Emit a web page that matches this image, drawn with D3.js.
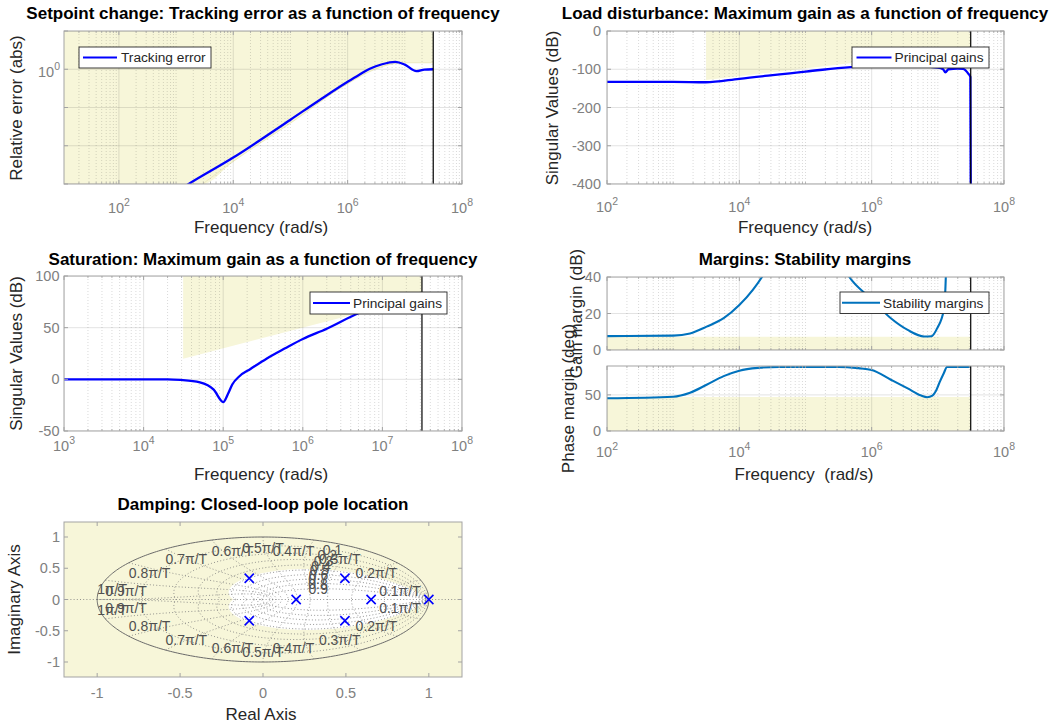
<!DOCTYPE html>
<html><head><meta charset="utf-8">
<script src="https://cdn.jsdelivr.net/npm/d3@7"></script>
<style>
html,body{margin:0;padding:0;background:#fff;}
svg{display:block;}
text{font-family:"Liberation Sans", Arial, Helvetica, sans-serif;}
</style></head><body>
<svg id="fig" width="1058" height="727"></svg>
<script>
// ================= DATA =================
const nyquistFreq = 3.14e7;

// Panel 1: Setpoint change – tracking error
const trackFreq = [1e3, 1.66e3, 1e4, 1e5, 3.3e5, 1e6, 1.6e6, 2.5e6, 4e6, 6.8e6, 1e7, 1.6e7, 2.2e7, 3.14e7];
const trackErr  = [6.2e-4, 1e-3, 4.9e-3, 0.048, 0.16, 0.47, 0.72, 1.05, 1.35, 1.56, 1.32, 0.89, 0.98, 1.0];
const trackBoundFreq = [2.9e3, 1e4, 1e5, 1e6, 3e6, 6e6, 1e7, 3.14e7];
const trackBoundVal  = [1e-3, 3.9e-3, 0.039, 0.42, 1.0, 1.38, 1.48, 1.48];

// Panel 2: Load disturbance – principal gains (dB)
const loadFreq = [1e2, 1e3, 3.1e3, 1e4, 1e5, 1e6, 3e6, 1e7, 1.2e7, 1.3e7, 1.45e7, 2e7, 2.4e7, 2.9e7, 3.1e7, 3.14e7];
const loadGain = [-133, -133, -134, -125, -106, -91, -90, -96, -100, -108, -100, -98, -99, -112, -120, -400];
const loadBoundFreq = [3.14e3, 3.14e7];
const loadBoundGain = [-128, -48];

// Panel 3: Saturation – principal gains (dB)
const satFreq = [1e3, 2e4, 2.9e4, 5.1e4, 7.6e4, 1e5, 1.15e5, 1.3e5, 1.6e5, 2.2e5, 3.5e5, 6e5, 1e6, 2e6, 5e6, 1e7, 3.14e7];
const satGain = [0, 0, -0.6, -3, -10, -22, -14, -5, 3, 10, 20, 30, 39, 49, 64, 72, 76];
const satBoundFreq = [3.14e4, 3.14e7];
const satBoundGain = [20, 80];

// Panel 4: Stability margins
const gmFreq = [1e2, 1e3, 1.8e3, 3.2e3, 5.8e3, 1e4, 1.6e4, 2.2e4, 3.2e4, 1e5, 3.2e5, 4.6e5, 9.5e5, 1.95e6, 3.5e6, 6.2e6, 8e6, 9.8e6, 1.23e7, 1.32e7, 1.38e7];
const gmVal  = [7.6, 7.9, 9.1, 12.8, 17.4, 24.6, 32.9, 40, 50, 70, 50, 40, 28.5, 17.4, 11, 7.4, 7.5, 12, 22, 40, 80];
const pmFreq = [1e2, 1e3, 1.8e3, 3.2e3, 5.8e3, 1e4, 2e4, 4e4, 3.2e5, 6.3e5, 1e6, 1.95e6, 3.5e6, 5.6e6, 6.9e6, 8.3e6, 9.3e6, 1.07e7, 1.23e7, 1.38e7, 3.14e7];
const pmVal  = [45.3, 47.5, 53, 64, 76, 83.5, 87.5, 88.8, 88.8, 87, 84.5, 71, 59, 49, 46.8, 49, 55, 68, 80, 88.8, 88.8];
const gmBound = 7.2;
const pmBound = 47;

// Panel 5: Damping – closed-loop poles
const poleRe = [-0.083, -0.083, 0.2, 0.494, 0.494, 0.652, 1.0];
const poleIm = [0.34, -0.34, 0, 0.34, -0.34, 0, 0];
const minDamping = 0.48;
const zetaGrid = [0.1, 0.2, 0.3, 0.4, 0.5, 0.6, 0.7, 0.8, 0.9];
const wnGrid = [0.1, 0.2, 0.3, 0.4, 0.5, 0.6, 0.7, 0.8, 0.9, 1.0];
const wnLabels = ["0.1π/T","0.2π/T","0.3π/T","0.4π/T","0.5π/T","0.6π/T","0.7π/T","0.8π/T","0.9π/T","1π/T"];
const zetaLabelWn = 1.09;

// tick labels
const p1XTickExp = [2, 4, 6, 8];
const p1YTickExp = [0];
const p2XTickExp = [2, 4, 6, 8];
const p2YTicks = [0, -100, -200, -300, -400];
const p3XTickExp = [3, 4, 5, 6, 7, 8];
const p3YTicks = [100, 50, 0, -50];
const p4XTickExp = [2, 4, 6, 8];
const p4UTicks = [0, 20, 40];
const p4LTicks = [0, 50];
const p5XTicks = [-1, -0.5, 0, 0.5, 1];
const p5YTicks = [1, 0.5, 0, -0.5, -1];

// ================= DRAWING =================
const svg = d3.select("#fig");
const defs = svg.append("defs");
const C = {fill:"#f7f6d9", tick:"#808080", box:"#a3a3a3", major:"rgba(38,38,38,0.13)",
  minor:"rgba(38,38,38,0.22)", label:"#262626", blue:"#0000ff", steel:"#0072bd"};
const FONT = {tick:14.5, label:17, title:17, legend:13.7};
let clipN = 0;
function clipFor(xs, ys) {
  const [x0,x1] = xs.range(), [y1,y0] = ys.range();
  const id = "clip" + (clipN++);
  defs.append("clipPath").attr("id", id).append("rect")
    .attr("x", x0).attr("y", y0).attr("width", x1-x0).attr("height", y1-y0);
  return `url(#${id})`;
}
function logAll(scale) {
  const [d0,d1] = scale.domain(); const out = [];
  for (let e = Math.floor(Math.log10(d0)); e <= Math.ceil(Math.log10(d1)); e++)
    for (let m = 1; m < 10; m++) { const v = m*Math.pow(10,e); if (v >= d0*0.9999 && v <= d1*1.0001) out.push({v, m, e}); }
  return out;
}
function logMajorMinor(scale, majorExps) {
  const all = logAll(scale);
  return {
    major: all.filter(t => t.m===1 && majorExps.includes(t.e)).map(t=>t.v),
    minor: all.filter(t => !(t.m===1 && majorExps.includes(t.e))).map(t=>t.v)
  };
}
function vline(g, x, y0, y1, stroke, w, dash) {
  const l = g.append("line").attr("x1",x).attr("x2",x).attr("y1",y0).attr("y2",y1)
    .attr("stroke",stroke).attr("stroke-width",w);
  if (dash) l.attr("stroke-dasharray",dash);
}
function hline(g, y, x0, x1, stroke, w, dash) {
  const l = g.append("line").attr("x1",x0).attr("x2",x1).attr("y1",y).attr("y2",y)
    .attr("stroke",stroke).attr("stroke-width",w);
  if (dash) l.attr("stroke-dasharray",dash);
}
function grid(g, xs, ys, o) {
  const [x0,x1] = xs.range(), [y1,y0] = ys.range();
  (o.xMinor||[]).forEach(v => vline(g, xs(v), y0, y1, C.minor, 0.8, "1,2"));
  (o.yMinor||[]).forEach(v => hline(g, ys(v), x0, x1, C.minor, 0.8, "1,2"));
  (o.xMajor||[]).forEach(v => vline(g, xs(v), y0, y1, C.major, 1));
  (o.yMajor||[]).forEach(v => hline(g, ys(v), x0, x1, C.major, 1));
}
function frame(g, xs, ys, o) {
  const [x0,x1] = xs.range(), [y1,y0] = ys.range();
  (o.xMajor||[]).forEach(v => { const x = xs(v); vline(g,x,y1,y1-4,C.box,1); vline(g,x,y0,y0+4,C.box,1); });
  (o.xMinor||[]).forEach(v => { const x = xs(v); vline(g,x,y1,y1-2,C.box,0.8); vline(g,x,y0,y0+2,C.box,0.8); });
  (o.yMajor||[]).forEach(v => { const y = ys(v); hline(g,y,x0,x0+4,C.box,1); hline(g,y,x1,x1-4,C.box,1); });
  g.append("rect").attr("x",x0).attr("y",y0).attr("width",x1-x0).attr("height",y1-y0)
    .attr("fill","none").attr("stroke",C.box).attr("stroke-width",1);
}
function powLabel(g, x, y, exp, anchor) {
  const t = g.append("text").attr("x",x).attr("y",y).attr("text-anchor",anchor)
    .attr("fill",C.tick).style("font-size",FONT.tick+"px");
  t.append("tspan").text("10");
  t.append("tspan").attr("dy",-6.5).style("font-size","10.5px").text(exp);
}
function numLabel(g, x, y, str, anchor) {
  g.append("text").attr("x",x).attr("y",y).attr("text-anchor",anchor)
    .attr("fill",C.tick).style("font-size",FONT.tick+"px").text(String(str));
}
function title(g, x, y, str) {
  g.append("text").attr("x",x).attr("y",y).attr("text-anchor","middle").attr("fill","#000")
    .style("font-size",FONT.title+"px").style("font-weight","bold").text(str);
}
function xlabel(g, x, y, str) {
  g.append("text").attr("x",x).attr("y",y).attr("text-anchor","middle").attr("fill",C.label)
    .style("font-size",FONT.label+"px").style("white-space","pre").text(str);
}
function ylabel(g, x, y, str) {
  g.append("text").attr("transform",`translate(${x},${y}) rotate(-90)`).attr("text-anchor","middle")
    .attr("fill",C.label).style("font-size",FONT.label+"px").text(str);
}
function legend(g, bx, by, bw, bh, color, lx0, lx1, tx, str) {
  g.append("rect").attr("x",bx).attr("y",by).attr("width",bw).attr("height",bh)
    .attr("fill","#fff").attr("stroke","#262626").attr("stroke-width",0.9);
  const cy = by + bh/2;
  hline(g, cy, lx0, lx1, color, 2.2);
  g.append("text").attr("x",tx).attr("y",cy+4.8).attr("fill","#262626")
    .style("font-size",FONT.legend+"px").text(str);
}
function nyq(g, xs, ys) {
  const [y1,y0] = ys.range();
  vline(g, xs(nyquistFreq), y0, y1, "#000", 1.2);
}

// ---------- Panel 1 ----------
{
  const g = svg.append("g");
  const xs = d3.scaleLog().domain([Math.pow(10,1.04), 1e8]).range([64, 462]);
  const ys = d3.scaleLog().domain([1e-3, 1e1]).range([184, 31]);
  const inner = g.append("g").attr("clip-path", clipFor(xs, ys));
  const bnd = [[xs.domain()[0], trackBoundVal[0]]].concat(d3.zip(trackBoundFreq, trackBoundVal));
  inner.append("path").datum(bnd).attr("fill", C.fill)
    .attr("d", d3.area().x(d=>xs(d[0])).y0(ys.range()[1]).y1(d=>ys(d[1])).curve(d3.curveMonotoneX));
  inner.append("path").datum(d3.zip(trackBoundFreq, trackBoundVal)).attr("fill","none")
    .attr("stroke","#ece9c0").attr("stroke-width",1)
    .attr("d", d3.line().x(d=>xs(d[0])).y(d=>ys(d[1])).curve(d3.curveMonotoneX));
  const xt = logMajorMinor(xs, [2,4,6,8]);
  const yMaj = [1e-3,1e-2,1e-1,1e0,1e1];
  grid(inner, xs, ys, {xMajor: xt.major, xMinor: xt.minor, yMajor: yMaj});
  inner.append("path").datum(d3.zip(trackFreq, trackErr)).attr("fill","none")
    .attr("stroke", C.blue).attr("stroke-width", 2.3)
    .attr("d", d3.line().x(d=>xs(d[0])).y(d=>ys(d[1])).curve(d3.curveMonotoneX));
  nyq(g, xs, ys);
  frame(g, xs, ys, {xMajor: xt.major, xMinor: xt.minor, yMajor: yMaj});
  p1XTickExp.forEach(e => powLabel(g, xs(Math.pow(10,e)), 212.5, e, "middle"));
  p1YTickExp.forEach(e => powLabel(g, 60, ys(Math.pow(10,e))+7.3, e, "end"));
  legend(g, 79, 47, 132, 21, C.blue, 83, 117, 121, "Tracking error");
  title(g, 263, 19, "Setpoint change: Tracking error as a function of frequency");
  xlabel(g, 261, 233, "Frequency (rad/s)");
  ylabel(g, 21.5, 108, "Relative error (abs)");
}

// ---------- Panel 2 ----------
{
  const g = svg.append("g");
  const xs = d3.scaleLog().domain([1e2, 1e8]).range([607, 1004]);
  const ys = d3.scaleLinear().domain([-400, 0]).range([184, 31]);
  const inner = g.append("g").attr("clip-path", clipFor(xs, ys));
  inner.append("path").datum(d3.zip(loadBoundFreq, loadBoundGain)).attr("fill", C.fill)
    .attr("d", d3.area().x(d=>xs(d[0])).y0(ys(0)).y1(d=>ys(d[1])));
  const xt = logMajorMinor(xs, [2,4,6,8]);
  grid(inner, xs, ys, {xMajor: xt.major, xMinor: xt.minor, yMajor: p2YTicks});
  inner.append("path").datum(d3.zip(loadFreq, loadGain)).attr("fill","none")
    .attr("stroke", C.blue).attr("stroke-width", 2.3)
    .attr("d", d3.line().x(d=>xs(d[0])).y(d=>ys(d[1])).curve(d3.curveMonotoneX));
  nyq(g, xs, ys);
  frame(g, xs, ys, {xMajor: xt.major, xMinor: xt.minor, yMajor: p2YTicks});
  p2XTickExp.forEach(e => powLabel(g, xs(Math.pow(10,e)), 211.5, e, "middle"));
  p2YTicks.forEach(v => numLabel(g, 601, ys(v)+5, v, "end"));
  legend(g, 852, 47, 137, 21, C.blue, 856.5, 891.5, 894.5, "Principal gains");
  title(g, 805, 19, "Load disturbance: Maximum gain as a function of frequency");
  xlabel(g, 805, 233, "Frequency (rad/s)");
  ylabel(g, 558, 108, "Singular Values (dB)");
}

// ---------- Panel 3 ----------
{
  const g = svg.append("g");
  const xs = d3.scaleLog().domain([1e3, 1e8]).range([64, 462]);
  const ys = d3.scaleLinear().domain([-50, 100]).range([431, 276]);
  const inner = g.append("g").attr("clip-path", clipFor(xs, ys));
  inner.append("path").datum(d3.zip(satBoundFreq, satBoundGain)).attr("fill", C.fill)
    .attr("d", d3.area().x(d=>xs(d[0])).y0(ys(100)).y1(d=>ys(d[1])));
  const xt = logMajorMinor(xs, [3,4,5,6,7,8]);
  grid(inner, xs, ys, {xMajor: xt.major, xMinor: xt.minor, yMajor: p3YTicks});
  inner.append("path").datum(d3.zip(satFreq, satGain)).attr("fill","none")
    .attr("stroke", C.blue).attr("stroke-width", 2.3)
    .attr("d", d3.line().x(d=>xs(d[0])).y(d=>ys(d[1])).curve(d3.curveMonotoneX));
  nyq(g, xs, ys);
  frame(g, xs, ys, {xMajor: xt.major, xMinor: xt.minor, yMajor: p3YTicks});
  p3XTickExp.forEach(e => powLabel(g, xs(Math.pow(10,e)), 450.5, e, "middle"));
  p3YTicks.forEach(v => numLabel(g, 59.5, ys(v)+5, v, "end"));
  legend(g, 310, 292, 137, 22, C.blue, 313, 350, 353, "Principal gains");
  title(g, 263, 265, "Saturation: Maximum gain as a function of frequency");
  xlabel(g, 261, 480, "Frequency (rad/s)");
  ylabel(g, 21.5, 353.5, "Singular Values (dB)");
}

// ---------- Panel 4 ----------
{
  const g = svg.append("g");
  const xs = d3.scaleLog().domain([1e2, 1e8]).range([607, 1004]);
  const ysU = d3.scaleLinear().domain([0, 40]).range([350, 277]);
  const ysL = d3.scaleLinear().domain([0, 90]).range([431, 366]);
  const xt = logMajorMinor(xs, [2,4,6,8]);
  [[ysU, gmBound, gmFreq, gmVal, p4UTicks], [ysL, pmBound, pmFreq, pmVal, p4LTicks]].forEach(([ys, b, fr, val, yt]) => {
    const inner = g.append("g").attr("clip-path", clipFor(xs, ys));
    inner.append("path").datum([[xs.domain()[0], b], [nyquistFreq, b]]).attr("fill", C.fill)
      .attr("d", d3.area().x(d=>xs(d[0])).y0(ys.range()[0]).y1(d=>ys(d[1])));
    grid(inner, xs, ys, {xMajor: xt.major, xMinor: xt.minor, yMajor: yt});
    inner.append("path").datum(d3.zip(fr, val)).attr("fill","none")
      .attr("stroke", C.steel).attr("stroke-width", 2.1)
      .attr("d", d3.line().x(d=>xs(d[0])).y(d=>ys(d[1])).curve(d3.curveMonotoneX));
    nyq(g, xs, ys);
    frame(g, xs, ys, {xMajor: xt.major, xMinor: xt.minor, yMajor: yt});
    yt.forEach(v => numLabel(g, 601, ys(v)+5, v, "end"));
  });
  p4XTickExp.forEach(e => powLabel(g, xs(Math.pow(10,e)), 456.5, e, "middle"));
  legend(g, 840, 292, 149, 21.5, C.steel, 842, 880, 883, "Stability margins");
  title(g, 805, 265, "Margins: Stability margins");
  xlabel(g, 804, 480, "Frequency  (rad/s)");
  ylabel(g, 582, 313.5, "Gain margin (dB)");
  ylabel(g, 574, 398.5, "Phase margin (deg)");
}

// ---------- Panel 5 ----------
{
  const g = svg.append("g");
  const xs = d3.scaleLinear().domain([-1.2, 1.2]).range([64, 462]);
  const ys = d3.scaleLinear().domain([-1.24, 1.24]).range([677, 522]);
  const inner = g.append("g").attr("clip-path", clipFor(xs, ys));
  inner.append("rect").attr("x",64).attr("y",522).attr("width",398).attr("height",155).attr("fill",C.fill);
  const line = d3.line().x(d=>xs(d[0])).y(d=>ys(d[1]));
  const N = 160;
  const m0 = minDamping/Math.sqrt(1-minDamping*minDamping);
  const upper = d3.range(N+1).map(i => { const th = Math.PI*i/N, r = Math.exp(-m0*th); return [r*Math.cos(th), r*Math.sin(th)]; });
  const region = upper.concat(upper.slice().reverse().map(p => [p[0], -p[1]]));
  inner.append("path").datum(region).attr("fill","#fff").attr("d", line);
  function dotted(pts) {
    inner.append("path").datum(pts).attr("fill","none").attr("stroke","#7a7a7a")
      .attr("stroke-width",0.8).attr("stroke-dasharray","1,2.2").attr("d", line);
  }
  zetaGrid.forEach(z => {
    const m = z/Math.sqrt(1-z*z);
    const pts = d3.range(N+1).map(i => { const th = Math.PI*i/N, r = Math.exp(-m*th); return [r*Math.cos(th), r*Math.sin(th)]; });
    dotted(pts); dotted(pts.map(p => [p[0], -p[1]]));
  });
  wnGrid.forEach(w => {
    const W = w*Math.PI;
    const pts = d3.range(N+1).map(i => { const z = i/N, r = Math.exp(-z*W), th = W*Math.sqrt(1-z*z); return [r*Math.cos(th), r*Math.sin(th)]; });
    dotted(pts); dotted(pts.map(p => [p[0], -p[1]]));
  });
  dotted([[-1.2, 0], [1.2, 0]]);
  const circ = d3.range(361).map(i => [Math.cos(i*Math.PI/180), Math.sin(i*Math.PI/180)]);
  inner.append("path").datum(circ).attr("fill","none").attr("stroke","#6a6a6a").attr("stroke-width",1).attr("d", line);
  wnGrid.forEach((w, k) => {
    const th = w*Math.PI, cx = Math.cos(th), sy = Math.sin(th);
    const anchor = cx > 1e-6 ? "end" : (cx < -1e-6 ? "start" : "middle");
    [ys(sy)+15.5, ys(-sy)-5.5].forEach(yy => {
      inner.append("text").attr("x", xs(cx)).attr("y", yy).attr("text-anchor", anchor)
        .attr("fill","#505050").style("font-size","14px").text(wnLabels[k]);
    });
  });
  zetaGrid.forEach(z => {
    const r = Math.exp(-z*zetaLabelWn), th = zetaLabelWn*Math.sqrt(1-z*z);
    inner.append("text").attr("x", xs(r*Math.cos(th))).attr("y", ys(r*Math.sin(th))+5)
      .attr("text-anchor","middle").attr("fill","#505050").style("font-size","14px").text(String(z));
  });
  const s = 4.6;
  d3.zip(poleRe, poleIm).forEach(([re, im]) => {
    const px = xs(re), py = ys(im);
    inner.append("path").attr("d", `M${px-s},${py-s}L${px+s},${py+s}M${px-s},${py+s}L${px+s},${py-s}`)
      .attr("stroke", C.blue).attr("stroke-width", 1.6).attr("fill","none");
  });
  frame(g, xs, ys, {xMajor: p5XTicks, yMajor: p5YTicks});
  p5XTicks.forEach(v => numLabel(g, xs(v), 698, v, "middle"));
  p5YTicks.forEach(v => numLabel(g, 60, ys(v)+5, v, "end"));
  title(g, 263, 510, "Damping: Closed-loop pole location");
  xlabel(g, 261, 720, "Real Axis");
  ylabel(g, 20, 599.5, "Imaginary Axis");
}
</script>
</body></html>
